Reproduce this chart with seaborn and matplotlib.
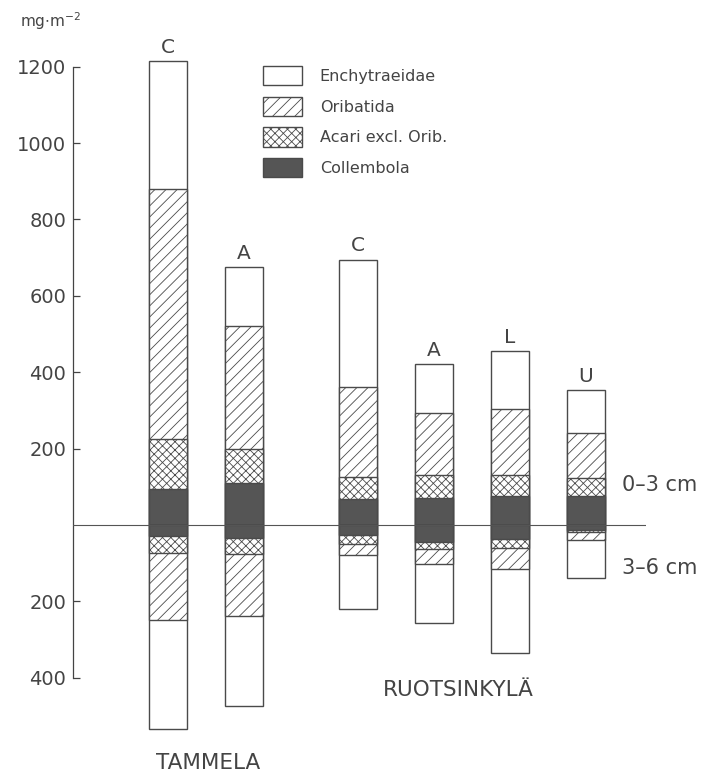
import numpy as np
import pandas as pd
import matplotlib
matplotlib.use("Agg")
import matplotlib.pyplot as plt
from matplotlib.patches import Patch
import seaborn as sns

# ---- data (mg m^-2) ----
sites = ["Tammela", "Tammela", "Ruotsinkylä", "Ruotsinkylä", "Ruotsinkylä", "Ruotsinkylä"]
treatments = ["C", "A", "C", "A", "L", "U"]
positions = [0, 1, 2.5, 3.5, 4.5, 5.5]
taxa = ["Enchytraeidae", "Oribatida", "Acari excl. Orib.", "Collembola"]

# 0-3 cm layer (drawn upward)
collembola_top = [93, 109, 68, 70, 75, 75]
acari_top = [132, 90, 58, 62, 57, 48]
oribatida_top = [654, 322, 234, 162, 171, 117]
enchytraeidae_top = [336, 154, 335, 127, 153, 113]

# 3-6 cm layer (drawn downward)
collembola_bot = [29, 33, 26, 44, 37, 12]
acari_bot = [44, 42, 25, 19, 24, 7]
oribatida_bot = [175, 164, 28, 38, 55, 20]
enchytraeidae_bot = [285, 235, 140, 155, 219, 99]

ytick_vals = [-400, -200, 200, 400, 600, 800, 1000, 1200]
ytick_labels = ["400", "200", "200", "400", "600", "800", "1000", "1200"]

# ---- style ----
sns.set_theme(style="white")
plt.rcParams["font.family"] = ["DejaVu Sans"]
plt.rcParams["hatch.linewidth"] = 0.6
INK = "#444444"
EDGE = "#4a4a4a"
DARK = "#555555"

styles = {
    "Enchytraeidae": dict(color="white", hatch=None),
    "Oribatida": dict(color="white", hatch="///"),
    "Acari excl. Orib.": dict(color="white", hatch="xxxx"),
    "Collembola": dict(color=DARK, hatch=None),
}

W, H = 717, 779
fig = plt.figure(figsize=(W / 100, H / 100), dpi=100)
fig.patch.set_facecolor("white")

# axes placement in pixels
ax_left, ax_right = 73, 646
ax_top, ax_bottom = 40, 745
zero_px, scale = 525, 0.382
x0_px, x_unit = 168, 76
ax = fig.add_axes([ax_left / W, 1 - ax_bottom / H, (ax_right - ax_left) / W, (ax_bottom - ax_top) / H])
ax.set_facecolor("white")

top_layers = [collembola_top, acari_top, oribatida_top, enchytraeidae_top]
bot_layers = [collembola_bot, acari_bot, oribatida_bot, enchytraeidae_bot]
order_names = ["Collembola", "Acari excl. Orib.", "Oribatida", "Enchytraeidae"]

for layers, sign in [(top_layers, 1), (bot_layers, -1)]:
    cum = np.cumsum(np.array(layers, dtype=float), axis=0) * sign
    # draw largest cumulative first, smaller ones overlay
    for i in range(len(order_names) - 1, -1, -1):
        name = order_names[i]
        df = pd.DataFrame({"pos": positions, "value": cum[i]})
        st = styles[name]
        sns.barplot(data=df, x="pos", y="value", native_scale=True, width=0.5,
                    color=st["color"], saturation=1, errorbar=None,
                    edgecolor=EDGE, linewidth=1.0, hatch=st["hatch"], ax=ax)

ax.axhline(0, color="#555555", lw=0.8, zorder=5)

# axes ranges
ax.set_xlim((ax_left - x0_px) / x_unit, (ax_right - x0_px) / x_unit)
ax.set_ylim(-(ax_bottom - zero_px) / scale, (zero_px - ax_top) / scale)

for s in ["top", "right", "bottom"]:
    ax.spines[s].set_visible(False)
ax.spines["left"].set_bounds(-400, 1200)
ax.spines["left"].set_color(INK)
ax.spines["left"].set_linewidth(0.9)
ax.set_xticks([])
ax.set_yticks(ytick_vals)
ax.set_yticklabels(ytick_labels)
ax.tick_params(axis="y", direction="in", length=5, width=0.9, color=INK,
               labelsize=14, labelcolor=INK, pad=5, left=True)
ax.set_xlabel("")
ax.set_ylabel("")

# treatment letters above bars
tops = np.sum(np.array(top_layers), axis=0)
for p, t, lab in zip(positions, tops, treatments):
    ax.annotate(lab, (p, t), xytext=(0, 3), textcoords="offset points",
                ha="center", va="bottom", fontsize=14.5, color=INK)

# unit label
fig.text(20 / W, 1 - 21 / H, r"mg$\cdot$m$^{-2}$", fontsize=11, color=INK,
         ha="left", va="center")

# depth labels
fig.text(622 / W, 1 - 485 / H, "0–3 cm", fontsize=15, color=INK, ha="left", va="center")
fig.text(622 / W, 1 - 568 / H, "3–6 cm", fontsize=15, color=INK, ha="left", va="center")

# site labels
fig.text(208 / W, 1 - 763 / H, "TAMMELA", fontsize=15.5, color=INK, ha="center", va="center")
fig.text(458 / W, 1 - 690 / H, "RUOTSINKYLÄ", fontsize=15.5, color=INK, ha="center", va="center")

# legend
handles = [Patch(facecolor=styles[n]["color"], edgecolor=EDGE, hatch=styles[n]["hatch"], linewidth=1.0)
           for n in taxa]
leg = fig.legend(handles, taxa, loc="upper left", bbox_to_anchor=(263 / W, 1 - 66 / H),
                 bbox_transform=fig.transFigure, frameon=False, borderpad=0,
                 fontsize=11.5, handlelength=2.45, handleheight=1.5,
                 labelspacing=0.69, handletextpad=1.1, borderaxespad=0)
for txt in leg.get_texts():
    txt.set_color(INK)

fig.savefig("out.png", dpi=100, facecolor="white")
